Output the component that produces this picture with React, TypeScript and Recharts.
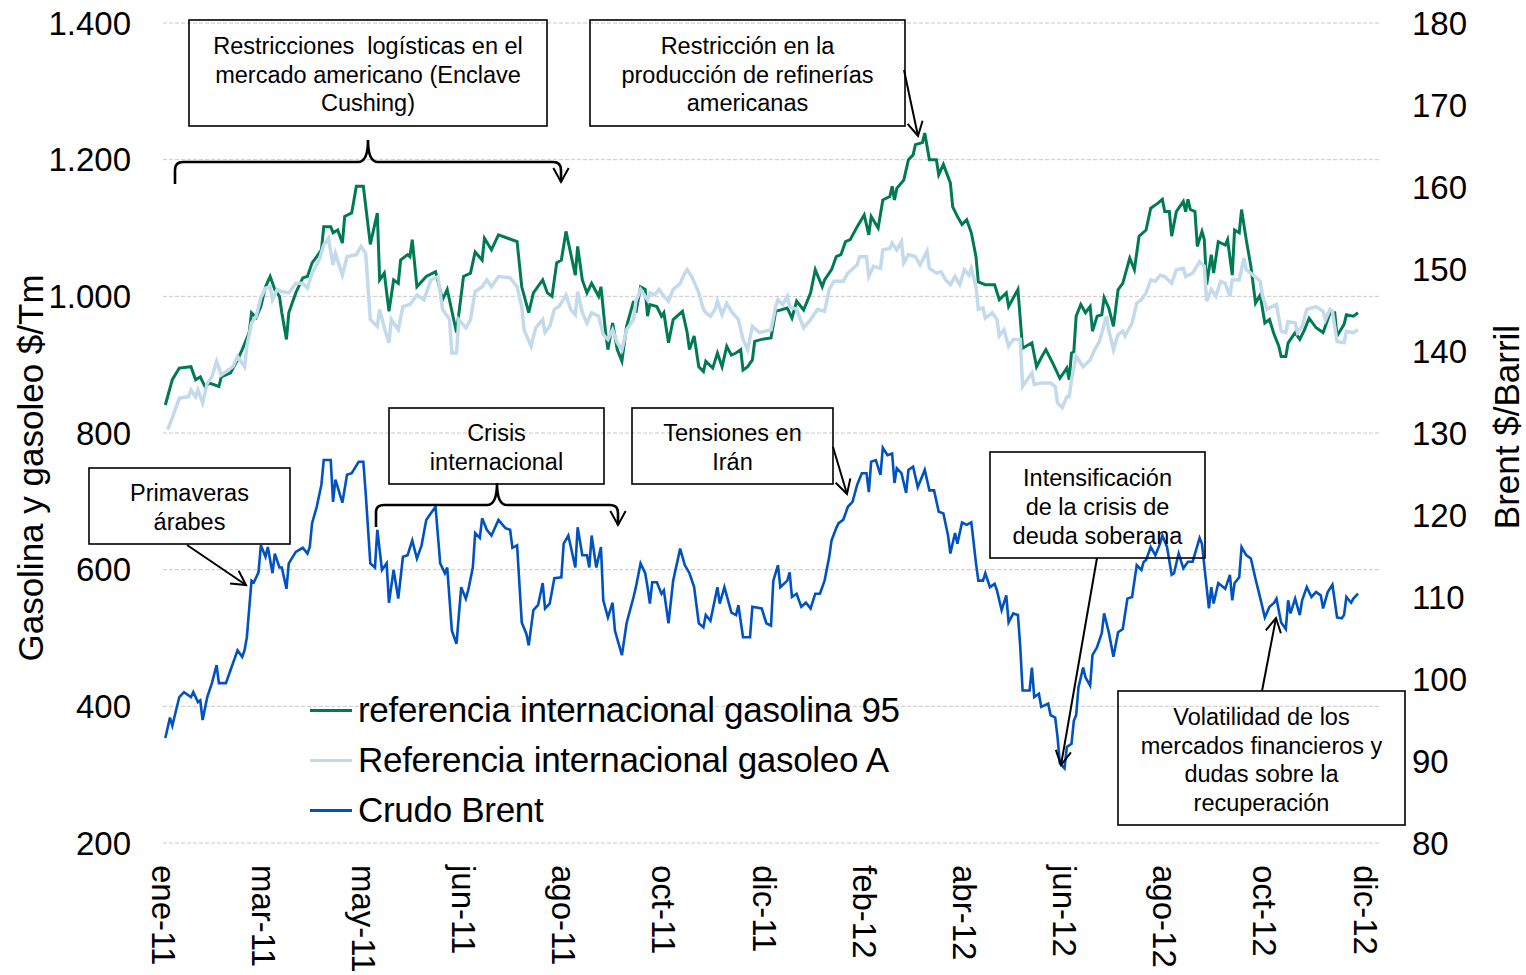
import React from 'react';
import { LineChart, Line, XAxis, YAxis, CartesianGrid, Legend } from 'recharts';

const FONT = '"Liberation Sans", Arial, Helvetica, sans-serif';

// Etiquetas del eje X (índice de sesión en el que aparece cada etiqueta)
const etiquetasMes = ['ene-11', 'mar-11', 'may-11', 'jun-11', 'ago-11', 'oct-11', 'dic-11', 'feb-12', 'abr-12', 'jun-12', 'ago-12', 'oct-12', 'dic-12'];
const sesionesEtiqueta = [0, 43, 86, 129, 172, 215, 258, 301, 344, 387, 430, 473, 516];
const ticksIzq = [200, 400, 600, 800, 1000, 1200, 1400];
const ticksDer = [80, 90, 100, 110, 120, 130, 140, 150, 160, 170, 180];

// [sesión, $/Tm]
const gasolina95: [number, number][] = [
  [1,841],[4,878],[7,895],[12,897],[14,878],[16,882],[18,868],[20,873],[24,868],[25,882],[29,888],[32,907],[34,922],[37,947],[38,976],[40,969],[42,985],[44,1014],[46,1029],[48,1010],[50,1000],[51,976],[53,937],[54,976],[57,1005],[60,1027],[62,1029],[64,1049],[66,1058],[68,1068],[69,1102],[72,1102],[73,1093],[75,1097],[77,1078],[78,1117],[81,1122],[83,1161],[86,1161],[89,1076],[92,1122],[93,1024],[95,1034],[97,978],[99,1024],[101,1019],[102,1053],[105,1061],[106,1058],[107,1083],[109,1014],[113,1029],[117,1036],[120,995],[122,1010],[126,947],[129,1029],[132,1034],[134,1065],[137,1053],[138,1085],[141,1068],[144,1090],[148,1085],[152,1080],[154,1014],[157,976],[159,1005],[163,1024],[165,1005],[167,1000],[169,1049],[171,1053],[173,1095],[175,1063],[177,1031],[178,1073],[180,1024],[182,1005],[184,1019],[187,1000],[188,1014],[190,947],[191,922],[193,961],[195,922],[197,905],[199,956],[202,993],[203,976],[205,1014],[207,1010],[208,971],[209,988],[212,985],[214,971],[215,976],[217,932],[219,966],[223,978],[225,947],[226,922],[228,942],[230,897],[232,890],[233,905],[236,895],[238,917],[240,897],[242,927],[244,914],[246,917],[248,922],[249,892],[251,897],[253,907],[254,934],[257,937],[261,939],[263,978],[268,983],[270,968],[272,993],[275,980],[278,1005],[280,1039],[283,1014],[284,1024],[287,1039],[289,1058],[291,1061],[293,1080],[295,1083],[298,1102],[301,1119],[303,1090],[304,1117],[307,1100],[309,1141],[312,1146],[313,1161],[314,1141],[315,1158],[318,1170],[320,1200],[322,1207],[323,1222],[326,1225],[327,1239],[329,1200],[332,1200],[333,1178],[335,1193],[338,1166],[339,1131],[341,1117],[343,1105],[345,1112],[347,1093],[349,1058],[350,1021],[353,1017],[357,1017],[359,995],[362,1005],[363,985],[367,1010],[369,924],[373,932],[375,897],[377,910],[379,922],[382,902],[385,880],[388,895],[389,878],[390,917],[391,919],[392,971],[394,988],[396,976],[398,985],[399,949],[401,971],[403,973],[404,998],[406,983],[408,956],[410,1010],[412,1019],[415,1056],[417,1039],[419,1088],[422,1097],[424,1129],[427,1136],[429,1142],[430,1124],[432,1124],[433,1088],[435,1124],[438,1139],[439,1124],[440,1142],[441,1127],[443,1124],[444,1073],[446,1095],[447,1083],[448,1017],[450,1061],[451,1034],[453,1080],[456,1075],[457,1083],[459,1031],[460,1097],[462,1093],[463,1127],[465,1083],[467,1044],[469,990],[471,1002],[473,961],[475,966],[477,944],[479,927],[480,912],[482,912],[483,932],[486,947],[488,937],[490,951],[492,968],[495,954],[498,947],[501,976],[503,976],[504,942],[507,959],[508,973],[511,971],[513,976]
];

// [sesión, $/Tm]
const gasoleoA: [number, number][] = [
  [2,805],[4,822],[7,851],[11,853],[12,863],[14,853],[15,863],[17,844],[19,873],[21,882],[23,905],[25,885],[28,892],[30,897],[32,912],[35,897],[36,927],[38,961],[40,971],[42,998],[44,1012],[46,1014],[47,995],[49,1010],[51,1007],[54,1005],[57,1019],[60,1019],[62,1012],[64,1034],[67,1053],[69,1075],[71,1085],[73,1046],[74,1063],[77,1031],[79,1058],[83,1061],[85,1073],[87,1063],[89,966],[92,956],[93,981],[95,954],[97,932],[98,966],[101,951],[103,985],[106,988],[109,1002],[112,995],[115,1024],[118,1029],[120,981],[123,966],[124,917],[126,917],[127,966],[130,954],[132,966],[134,1007],[137,1014],[139,1024],[141,1014],[144,1029],[149,1027],[152,1014],[154,985],[155,951],[158,927],[160,954],[163,966],[164,947],[166,956],[168,981],[170,985],[173,1002],[175,981],[177,973],[178,1007],[180,976],[182,961],[184,976],[187,971],[189,944],[191,937],[193,951],[195,932],[197,922],[199,951],[202,966],[203,993],[205,1010],[208,995],[209,1005],[211,1002],[213,1010],[215,1000],[217,993],[219,1010],[222,1019],[224,1034],[225,1039],[227,1029],[230,1005],[232,981],[233,976],[235,971],[237,981],[238,993],[240,973],[242,990],[244,978],[247,966],[249,937],[251,922],[253,956],[256,947],[261,951],[263,985],[264,995],[266,988],[268,1000],[269,985],[272,981],[275,954],[278,966],[281,981],[284,978],[286,1010],[288,1022],[292,1022],[294,1034],[298,1046],[299,1058],[302,1058],[303,1029],[305,1044],[308,1041],[309,1068],[312,1070],[313,1078],[315,1068],[317,1080],[318,1049],[320,1061],[323,1058],[325,1046],[328,1066],[329,1041],[332,1034],[334,1036],[336,1024],[338,1017],[340,1029],[342,1017],[344,1039],[346,1031],[347,1041],[349,1014],[350,981],[352,983],[353,968],[356,976],[358,966],[359,942],[361,951],[363,927],[365,937],[368,937],[369,868],[373,888],[374,871],[377,873],[381,873],[383,868],[384,844],[386,837],[388,853],[389,853],[390,878],[392,912],[395,897],[398,907],[400,922],[402,934],[405,971],[406,951],[408,922],[410,944],[412,949],[413,942],[416,961],[418,990],[420,995],[422,1005],[424,1024],[426,1022],[428,1031],[430,1029],[433,1019],[435,1039],[438,1041],[439,1029],[442,1034],[445,1051],[447,1044],[448,993],[450,1010],[452,1000],[454,1022],[456,1019],[458,1000],[459,1024],[462,1024],[464,1056],[465,1039],[468,1031],[471,1022],[472,1000],[474,981],[476,985],[478,988],[480,949],[482,947],[483,963],[486,961],[487,947],[489,956],[491,981],[495,985],[498,978],[499,966],[501,981],[502,978],[504,934],[507,932],[508,949],[511,947],[513,951]
];

// [sesión, $/Barril]
const crudoBrent: [number, number][] = [
  [1,92.8],[3,95.3],[4,94.3],[7,97.8],[9,98.4],[12,97.8],[13,98.4],[15,97.2],[16,97.4],[17,95.0],[19,97.8],[21,99.5],[23,101.7],[24,99.5],[27,99.5],[29,101.1],[31,102.7],[32,103.5],[34,102.7],[35,103.5],[36,105.1],[38,112.0],[39,111.8],[41,113.0],[42,116.3],[44,114.9],[45,116.1],[47,112.9],[48,115.3],[50,113.6],[51,113.6],[53,111.0],[54,114.1],[57,115.5],[60,116.0],[62,115.3],[63,116.1],[64,119.0],[66,121.0],[68,123.7],[69,126.7],[72,126.7],[73,121.6],[74,124.3],[75,123.4],[77,121.5],[79,124.9],[81,125.1],[84,126.5],[86,126.5],[87,122.7],[89,114.1],[91,113.6],[92,118.2],[94,113.3],[96,114.1],[97,109.3],[99,113.3],[101,109.8],[103,114.9],[105,115.1],[107,116.9],[109,114.7],[111,116.3],[113,119.4],[115,120.2],[117,121.0],[119,114.1],[121,112.9],[122,113.6],[124,105.9],[126,104.3],[128,111.2],[130,109.8],[131,110.8],[133,113.6],[134,117.8],[136,117.2],[137,119.6],[139,118.2],[141,117.5],[144,119.4],[147,118.4],[149,118.2],[150,116.0],[152,116.3],[154,106.9],[156,105.5],[157,104.1],[159,108.4],[161,109.0],[163,111.7],[164,108.6],[166,109.2],[168,112.3],[171,112.4],[172,116.5],[174,117.5],[177,113.6],[178,118.5],[180,115.1],[182,115.1],[183,113.6],[184,117.5],[186,113.6],[188,116.1],[189,109.6],[191,107.5],[193,109.3],[194,105.9],[195,104.9],[197,102.9],[199,106.8],[202,110.0],[203,111.2],[205,114.1],[207,112.9],[208,111.2],[209,109.2],[210,111.8],[212,111.8],[214,110.4],[215,110.8],[217,106.8],[219,112.0],[222,115.9],[224,113.9],[226,112.9],[228,111.2],[230,106.8],[232,106.3],[233,107.8],[235,107.1],[238,111.2],[239,109.2],[241,111.2],[244,108.1],[246,107.8],[247,109.0],[249,105.1],[252,105.1],[253,108.8],[257,108.6],[259,106.8],[261,106.5],[262,112.0],[264,113.9],[265,111.2],[268,112.0],[269,113.0],[270,110.0],[272,110.4],[274,108.8],[276,109.3],[278,108.6],[280,110.4],[282,110.4],[284,112.0],[286,114.9],[287,116.9],[289,118.4],[290,119.0],[292,119.4],[294,121.0],[296,121.6],[298,123.7],[300,125.1],[302,125.1],[303,122.8],[304,126.5],[306,126.7],[308,124.9],[309,128.2],[311,127.3],[313,127.5],[314,123.9],[315,125.7],[317,125.1],[319,122.7],[320,125.5],[322,125.9],[324,123.4],[327,125.5],[329,123.0],[331,123.0],[333,120.4],[335,120.2],[337,117.5],[338,115.3],[340,117.8],[341,116.5],[343,119.1],[345,118.8],[347,119.1],[349,114.1],[350,112.0],[352,112.0],[353,112.9],[355,111.2],[357,111.6],[358,110.8],[360,108.4],[362,110.2],[363,106.9],[365,108.0],[367,107.8],[368,103.9],[369,98.6],[372,98.6],[373,101.4],[374,97.8],[376,98.2],[377,96.6],[380,97.0],[381,95.6],[383,95.3],[384,92.9],[385,89.7],[387,89.1],[388,91.7],[390,92.1],[391,94.9],[392,95.6],[393,99.0],[395,101.4],[396,100.2],[398,99.2],[399,102.9],[401,103.9],[403,105.6],[404,108.0],[406,105.7],[408,102.7],[410,105.7],[412,106.1],[414,109.8],[416,110.0],[418,113.9],[420,113.3],[421,114.3],[422,114.5],[424,116.1],[426,115.1],[428,116.5],[429,117.5],[431,116.1],[433,112.7],[434,112.9],[436,115.3],[438,113.5],[440,114.3],[442,114.3],[445,117.2],[446,116.5],[448,111.2],[449,108.6],[450,111.2],[451,109.2],[453,111.7],[456,111.0],[458,112.7],[459,109.6],[460,111.7],[462,112.4],[463,116.1],[465,115.1],[467,114.7],[469,112.2],[471,109.9],[473,107.5],[475,108.8],[477,109.3],[478,109.8],[480,106.9],[482,106.1],[483,109.6],[484,108.0],[486,109.8],[488,107.8],[489,109.6],[491,111.2],[493,110.0],[495,110.6],[497,110.2],[498,108.6],[500,110.6],[502,111.5],[504,107.5],[506,107.4],[507,107.8],[508,110.0],[510,109.3],[511,109.8],[513,110.4]
];

const C_GASOLINA = '#007A53';
const C_GASOLEO = '#C3DAEC';
const C_BRENT = '#0052C2';

const toRows = (s: [number, number][]) => s.map(([d, v]) => ({ d, v }));
const dGasolina = toRows(gasolina95);
const dGasoleo = toRows(gasoleoA);
const dBrent = toRows(crudoBrent);

const fmtMiles = (v: number) => (v >= 1000 ? `${Math.floor(v / 1000)}.${String(v % 1000).padStart(3, '0')}` : String(v));

const XTick = (props: any) => {
  const { x, y, payload } = props;
  const i = sesionesEtiqueta.indexOf(payload.value);
  const label = i >= 0 ? etiquetasMes[i] : '';
  return (
    <text x={x} y={y} transform={`rotate(90 ${x} ${y})`} textAnchor="start" dominantBaseline="central"
      fontSize={33} fontFamily={FONT} fill="#000">{label}</text>
  );
};

const legendItems = [
  { label: 'referencia internacional gasolina 95', color: C_GASOLINA },
  { label: 'Referencia internacional gasoleo A', color: C_GASOLEO },
  { label: 'Crudo Brent', color: C_BRENT },
];

const renderLegend = () => (
  <div style={{ fontFamily: FONT, fontSize: 35, color: '#000' }}>
    {legendItems.map((it) => (
      <div key={it.label} style={{ display: 'flex', alignItems: 'center', height: 50 }}>
        <span style={{ display: 'inline-block', width: 42, height: 3, background: it.color, marginRight: 6 }} />
        <span style={{ whiteSpace: 'nowrap', letterSpacing: -0.3 }}>{it.label}</span>
      </div>
    ))}
  </div>
);

function head(x1: number, y1: number, x2: number, y2: number, len = 16, ang = 0.5) {
  const a = Math.atan2(y2 - y1, x2 - x1);
  const p1 = `${x2 - len * Math.cos(a - ang)},${y2 - len * Math.sin(a - ang)}`;
  const p2 = `${x2 - len * Math.cos(a + ang)},${y2 - len * Math.sin(a + ang)}`;
  return `M${p1} L${x2},${y2} L${p2}`;
}

type Box = { x: number; y: number; w: number; h: number; lines: string[]; ys: number[] };
const cajas: Box[] = [
  { x: 189, y: 20, w: 358, h: 106, lines: ['Restricciones  logísticas en el', 'mercado americano (Enclave', 'Cushing)'], ys: [46, 75, 103] },
  { x: 590, y: 20, w: 315, h: 106, lines: ['Restricción en la', 'producción de refinerías', 'americanas'], ys: [46, 75, 103] },
  { x: 89, y: 468, w: 201, h: 76, lines: ['Primaveras', 'árabes'], ys: [493, 522] },
  { x: 389, y: 408, w: 215, h: 76, lines: ['Crisis', 'internacional'], ys: [433, 462] },
  { x: 632, y: 408, w: 201, h: 76, lines: ['Tensiones en', 'Irán'], ys: [433, 462] },
  { x: 990, y: 452, w: 215, h: 106, lines: ['Intensificación', 'de la crisis de', 'deuda soberana'], ys: [478, 507, 536] },
  { x: 1118, y: 691, w: 287, h: 134, lines: ['Volatilidad de los', 'mercados financieros y', 'dudas sobre la', 'recuperación'], ys: [717, 746, 774, 803] },
];
const flechas: [number, number, number, number][] = [
  [904, 70, 918, 136],
  [187, 545, 246, 585],
  [833, 447, 847, 494],
  [1097, 558, 1061, 765],
  [1262, 691, 1276, 618],
];

const Annotations = () => (
  <svg width={1526} height={975} style={{ position: 'absolute', left: 0, top: 0, pointerEvents: 'none' }}>
    <text x={30} y={468} transform="rotate(-90 30 468)" textAnchor="middle" dominantBaseline="central" fontSize={35} fontFamily={FONT} fill="#000">Gasolina y gasoleo $/Tm</text>
    <text x={1506} y={427} transform="rotate(-90 1506 427)" textAnchor="middle" dominantBaseline="central" fontSize={35} fontFamily={FONT} fill="#000">Brent $/Barril</text>
    {cajas.map((b, i) => (
      <g key={i}>
        <rect x={b.x} y={b.y} width={b.w} height={b.h} fill="none" stroke="#000" strokeWidth={1.6} />
        {b.lines.map((t, j) => (
          <text key={j} x={b.x + b.w / 2} y={b.ys[j]} textAnchor="middle" dominantBaseline="central" fontSize={23.5} fontFamily={FONT} fill="#000" style={{ whiteSpace: 'pre' }}>{t}</text>
        ))}
      </g>
    ))}
    {flechas.map(([x1, y1, x2, y2], i) => (
      <g key={i} stroke="#000" strokeWidth={2} fill="none">
        <line x1={x1} y1={y1} x2={x2} y2={y2} />
        <path d={head(x1, y1, x2, y2)} />
      </g>
    ))}
    <g stroke="#000" strokeWidth={2.6} fill="none">
      <path d="M175,184 L175,170 Q175,162 183,162 L358,162 Q368,162 368,140 Q368,162 378,162 L553,162 Q561,162 561,170 L561,182" />
      <path d={head(561, 170, 561, 182)} strokeWidth={2} />
      <path d="M376,527 L376,512 Q376,505 384,505 L487,505 Q497,505 497,483 Q497,505 507,505 L610,505 Q618,505 618,513 L618,525" />
      <path d={head(618, 513, 618, 525)} strokeWidth={2} />
    </g>
  </svg>
);

export default function App() {
  return (
    <div style={{ position: 'absolute', left: 0, top: 0, width: 1526, height: 975, background: '#fff', fontFamily: FONT }}>
      <LineChart width={1526} height={975} margin={{ top: 23, right: 0, bottom: 0, left: 0 }}>
        <CartesianGrid yAxisId="left" vertical={false} stroke="#C8C8C8" strokeDasharray="4 2" />
        <XAxis dataKey="d" type="number" domain={[0, 522]} ticks={sesionesEtiqueta} interval={0} height={132}
          axisLine={false} tickLine={false} tickSize={0} tickMargin={22} allowDataOverflow tick={(p: any) => <XTick {...p} />} />
        <YAxis yAxisId="left" orientation="left" width={163} domain={[200, 1400]} ticks={ticksIzq} interval={0}
          axisLine={false} tickLine={false} tickSize={0} tickMargin={32} tickFormatter={fmtMiles}
          tick={{ fontSize: 33, fill: '#000', fontFamily: FONT }} allowDataOverflow />
        <YAxis yAxisId="right" orientation="right" width={147} domain={[80, 180]} ticks={ticksDer} interval={0}
          axisLine={false} tickLine={false} tickSize={0} tickMargin={33}
          tick={{ fontSize: 33, fill: '#000', fontFamily: FONT }} allowDataOverflow />
        <Line yAxisId="left" data={dGasolina} dataKey="v" name="referencia internacional gasolina 95" stroke={C_GASOLINA}
          strokeWidth={3} dot={false} activeDot={false} isAnimationActive={false} />
        <Line yAxisId="left" data={dGasoleo} dataKey="v" name="Referencia internacional gasoleo A" stroke={C_GASOLEO}
          strokeWidth={3.5} dot={false} activeDot={false} isAnimationActive={false} />
        <Line yAxisId="right" data={dBrent} dataKey="v" name="Crudo Brent" stroke={C_BRENT}
          strokeWidth={2.6} dot={false} activeDot={false} isAnimationActive={false} />
        <Legend layout="vertical" align="center" verticalAlign="middle" content={renderLegend}
          wrapperStyle={{ left: 310, top: 685, width: 620, height: 150 }} />
      </LineChart>
      <Annotations />
    </div>
  );
}
